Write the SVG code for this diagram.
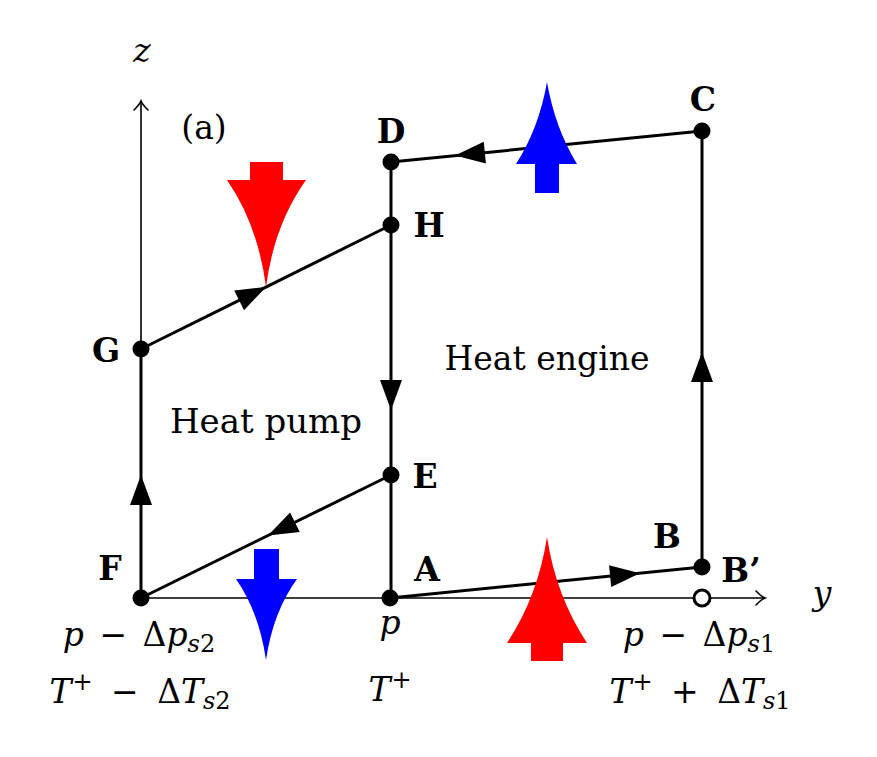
<svg xmlns="http://www.w3.org/2000/svg" xmlns:xlink="http://www.w3.org/1999/xlink" width="877" height="757" viewBox="0 0 877 757">
<style>
  .ln { stroke: #000; stroke-width: 3; fill: none; stroke-linecap: round; }
  .ax { stroke: #000; stroke-width: 1.6; fill: none; }
  .dot { fill: #000; }
  .lbl { font-family: "DejaVu Serif", serif; font-weight: bold; font-size: 33px; fill: #000; text-anchor: middle; }
  .txt { font-family: "DejaVu Serif", serif; font-size: 33px; fill: #000; text-anchor: middle; }
  .m { font-family: "DejaVu Serif", serif; font-size: 33px; fill: #000; text-anchor: middle; }
  .it { font-style: italic; }
  .sm { font-size: 24px; }
  .red { fill: #ff0000; }
  .blue { fill: #0000ff; }
</style>
<defs>
  <path id="ah" d="M0,0 L-30,-11 L-30,11 Z" fill="#000"/>
  <path id="axh" d="M-9,-7 Q-3,-1 0,0 Q-3,1 -9,7" fill="none" stroke="#000" stroke-width="1.6" stroke-linecap="round"/>
</defs>
<rect width="877" height="757" fill="#fff"/>

<g id="axes">
  <line class="ax" x1="141" y1="598" x2="765" y2="598"/>
  <use xlink:href="#axh" transform="translate(765,598)"/>
  <line class="ax" x1="141" y1="598" x2="141" y2="101"/>
  <use xlink:href="#axh" transform="translate(141,101) rotate(-90)"/>
  <text class="m it" x="142" y="62">z</text>
  <text class="m it" x="822" y="605">y</text>
  <text class="m" x="204" y="139" style="font-size:33px">(a)</text>
</g>

<g id="connectors">
  <line class="ln" x1="390" y1="598" x2="702" y2="567"/>
  <line class="ln" x1="702" y1="567" x2="702" y2="131"/>
  <line class="ln" x1="702" y1="131" x2="391" y2="162"/>
  <line class="ln" x1="391" y1="162" x2="391" y2="598"/>
  <line class="ln" x1="141" y1="349" x2="391" y2="225"/>
  <line class="ln" x1="391" y1="475" x2="141" y2="598"/>
  <line class="ln" x1="141" y1="598" x2="141" y2="349"/>
  <use xlink:href="#ah" transform="translate(640,573.2) rotate(-5.67)"/>
  <use xlink:href="#ah" transform="translate(702,352) rotate(-90)"/>
  <use xlink:href="#ah" transform="translate(455,155.6) rotate(174.3)"/>
  <use xlink:href="#ah" transform="translate(266,287) rotate(-26.4)"/>
  <use xlink:href="#ah" transform="translate(391,410) rotate(90)"/>
  <use xlink:href="#ah" transform="translate(268,535.5) rotate(153.8)"/>
  <use xlink:href="#ah" transform="translate(141,475) rotate(-90)"/>
</g>

<g id="node-A"><circle class="dot" cx="390" cy="598" r="8.5"/><text class="lbl" x="427" y="581">A</text></g>
<g id="node-B"><circle cx="702" cy="598" r="8" fill="#fff" stroke="#000" stroke-width="3"/><text class="lbl" x="667" y="548">B</text></g>
<g id="node-Bp"><circle class="dot" cx="702" cy="567" r="8.5"/><text class="lbl" x="741" y="582">B’</text></g>
<g id="node-C"><circle class="dot" cx="702" cy="131" r="8.5"/><text class="lbl" x="703" y="111">C</text></g>
<g id="node-D"><circle class="dot" cx="391" cy="162" r="8.5"/><text class="lbl" x="391" y="143">D</text></g>
<g id="node-H"><circle class="dot" cx="391" cy="225" r="8.5"/><text class="lbl" x="429" y="237">H</text></g>
<g id="node-G"><circle class="dot" cx="141" cy="349" r="8.5"/><text class="lbl" x="106" y="362">G</text></g>
<g id="node-E"><circle class="dot" cx="391" cy="475" r="8.5"/><text class="lbl" x="425" y="488">E</text></g>
<g id="node-F"><circle class="dot" cx="141" cy="598" r="8.5"/><text class="lbl" x="110" y="580">F</text></g>

<g id="regions">
  <text class="txt" x="547" y="370">Heat engine</text>
  <text class="txt" x="266" y="433" style="font-size:34px">Heat pump</text>
</g>

<g id="heat-arrows">
  <path class="red" d="M250,162 H283 V180 H306 Q274,225 266,287 Q258,225 227,180 H250 Z"/>
  <path class="blue" d="M547,82 Q555,128 577,164 H559 V193 H535 V164 H516 Q539,128 547,82 Z"/>
  <path class="red" d="M547,537 Q556,596 587,643 H563 V661 H531 V643 H507 Q538,596 547,537 Z"/>
  <path class="blue" d="M254,549 H279 V579 H297 Q273,612 266,660 Q259,612 236,579 H254 Z"/>
</g>

<g id="tick-labels">
  <text class="m it" x="390" y="634">p</text>
  <text class="m" x="390" y="701"><tspan class="it">T</tspan><tspan class="sm" dy="-13" dx="1">+</tspan></text>
  <text class="m" x="139" y="646"><tspan class="it">p</tspan><tspan dx="5"> − </tspan><tspan dx="5">Δ</tspan><tspan class="it">p</tspan><tspan class="sm it" dy="6">s</tspan><tspan class="sm">2</tspan></text>
  <text class="m" x="140" y="703"><tspan class="it">T</tspan><tspan class="sm" dy="-13" dx="1">+</tspan><tspan dy="13" dx="8"> − </tspan><tspan dx="8">Δ</tspan><tspan class="it">T</tspan><tspan class="sm it" dy="6">s</tspan><tspan class="sm">2</tspan></text>
  <text class="m" x="699" y="646"><tspan class="it">p</tspan><tspan dx="5"> − </tspan><tspan dx="5">Δ</tspan><tspan class="it">p</tspan><tspan class="sm it" dy="6">s</tspan><tspan class="sm">1</tspan></text>
  <text class="m" x="700" y="703"><tspan class="it">T</tspan><tspan class="sm" dy="-13" dx="1">+</tspan><tspan dy="13" dx="8"> + </tspan><tspan dx="8">Δ</tspan><tspan class="it">T</tspan><tspan class="sm it" dy="6">s</tspan><tspan class="sm">1</tspan></text>
</g>
</svg>
